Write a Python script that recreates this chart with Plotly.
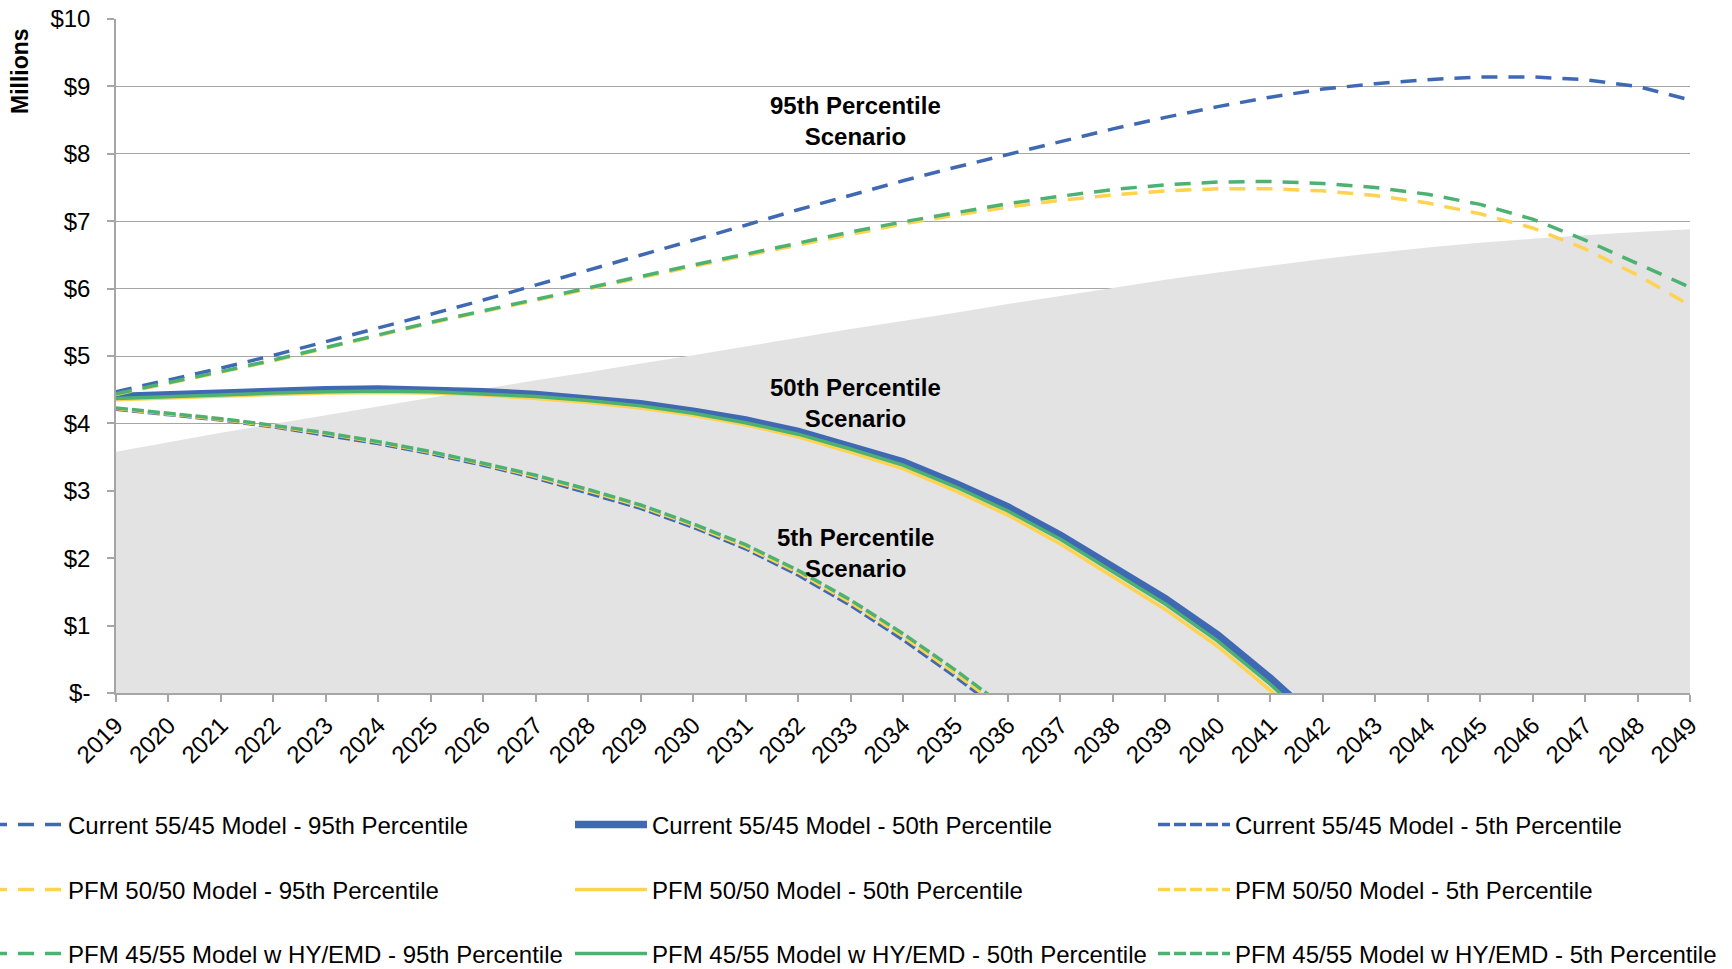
import plotly.graph_objects as go

# ---- data (millions of dollars) ----
years = list(range(2019, 2050))

shaded_area = [3.58, 3.72, 3.86, 3.99, 4.12, 4.25, 4.38, 4.51, 4.64, 4.76, 4.89,
               5.01, 5.14, 5.27, 5.40, 5.52, 5.64, 5.77, 5.89, 6.01, 6.13, 6.24,
               6.34, 6.44, 6.53, 6.61, 6.68, 6.74, 6.79, 6.84, 6.88]

cur_95 = [4.47, 4.64, 4.82, 5.01, 5.21, 5.41, 5.62, 5.83, 6.05, 6.27, 6.49,
          6.71, 6.94, 7.17, 7.39, 7.60, 7.80, 7.99, 8.18, 8.37, 8.54, 8.70,
          8.84, 8.96, 9.04, 9.10, 9.14, 9.14, 9.10, 9.00, 8.80]
cur_50 = [4.40, 4.43, 4.46, 4.48, 4.50, 4.51, 4.50, 4.47, 4.43, 4.37, 4.29,
          4.18, 4.05, 3.88, 3.66, 3.43, 3.11, 2.76, 2.34, 1.87, 1.40, 0.86,
          0.22, -0.48]
cur_5 = [4.21, 4.13, 4.05, 3.95, 3.83, 3.70, 3.55, 3.38, 3.19, 2.97, 2.74,
         2.46, 2.14, 1.75, 1.30, 0.79, 0.24, -0.34]

pfm50_95 = [4.43, 4.59, 4.76, 4.93, 5.12, 5.31, 5.49, 5.66, 5.83, 6.00, 6.17,
            6.33, 6.49, 6.65, 6.81, 6.96, 7.09, 7.21, 7.31, 7.39, 7.45, 7.48,
            7.48, 7.45, 7.38, 7.27, 7.11, 6.90, 6.59, 6.20, 5.75]
pfm50_50 = [4.35, 4.38, 4.41, 4.43, 4.45, 4.46, 4.45, 4.42, 4.37, 4.31, 4.23,
            4.12, 3.98, 3.80, 3.57, 3.33, 3.00, 2.64, 2.21, 1.73, 1.24, 0.69,
            0.04, -0.68]
pfm50_5 = [4.22, 4.14, 4.06, 3.96, 3.85, 3.72, 3.57, 3.40, 3.21, 3.00, 2.77,
           2.49, 2.17, 1.79, 1.34, 0.84, 0.29, -0.29]

pfm45_95 = [4.44, 4.60, 4.77, 4.94, 5.13, 5.32, 5.50, 5.67, 5.84, 6.02, 6.19,
            6.35, 6.51, 6.68, 6.84, 6.99, 7.13, 7.26, 7.37, 7.47, 7.54, 7.58,
            7.59, 7.56, 7.50, 7.40, 7.25, 7.03, 6.72, 6.37, 6.02]
pfm45_50 = [4.37, 4.40, 4.43, 4.45, 4.47, 4.48, 4.47, 4.44, 4.40, 4.34, 4.26,
            4.15, 4.01, 3.84, 3.62, 3.38, 3.06, 2.70, 2.28, 1.80, 1.32, 0.77,
            0.13, -0.58]
pfm45_5 = [4.23, 4.15, 4.07, 3.97, 3.86, 3.73, 3.58, 3.41, 3.23, 3.02, 2.79,
           2.51, 2.20, 1.82, 1.38, 0.88, 0.34, -0.24]

y_ticks = list(range(0, 11))
y_tick_text = ["$-"] + [f"${v}" for v in range(1, 11)]

# ---- styling ----
FONT = "Liberation Sans, Arial, sans-serif"
BLUE = "#3F69B3"
GOLD = "#FFD250"
GREEN = "#4CB271"
GRID = "#A6A6A6"
LONG_DASH = "16px,11px"
SHORT_DASH = "12px,4px"

series = [
    ("Current 55/45 Model - 95th Percentile", cur_95, BLUE, 3.5, LONG_DASH),
    ("Current 55/45 Model - 50th Percentile", cur_50, BLUE, 7.5, "solid"),
    ("Current 55/45 Model - 5th Percentile", cur_5, BLUE, 3.5, SHORT_DASH),
    ("PFM 50/50 Model - 95th Percentile", pfm50_95, GOLD, 3.5, LONG_DASH),
    ("PFM 50/50 Model - 50th Percentile", pfm50_50, GOLD, 3.5, "solid"),
    ("PFM 50/50 Model - 5th Percentile", pfm50_5, GOLD, 3.5, SHORT_DASH),
    ("PFM 45/55 Model w HY/EMD - 95th Percentile", pfm45_95, GREEN, 3.5, LONG_DASH),
    ("PFM 45/55 Model w HY/EMD - 50th Percentile", pfm45_50, GREEN, 3.5, "solid"),
    ("PFM 45/55 Model w HY/EMD - 5th Percentile", pfm45_5, GREEN, 3.5, SHORT_DASH),
]

fig = go.Figure()

fig.add_trace(go.Scatter(
    x=years, y=shaded_area, mode="none", fill="tozeroy",
    fillcolor="#E3E3E3", showlegend=False, hoverinfo="skip",
))

# one single-entry legend per series, laid out as a 3 x 3 grid
W, H = 1732, 969
ML, MR, MT, MB = 116, 42, 19, 276
PW, PH = W - ML - MR, H - MT - MB
col_px = [-14, 570, 1153]
row_px = [825, 890, 954]

legend_layouts = {}
for i, (name, vals, color, width, dash) in enumerate(series):
    key = "legend" if i == 0 else f"legend{i + 1}"
    fig.add_trace(go.Scatter(
        x=years[:len(vals)], y=vals, name=name, mode="lines",
        line=dict(color=color, width=width, dash=dash),
        legend=key,
    ))
    r, c = divmod(i, 3)
    legend_layouts[key] = dict(
        x=(col_px[c] - ML) / PW, y=(MT + PH - row_px[r]) / PH,
        xanchor="left", yanchor="middle",
        xref="paper", yref="paper",
        orientation="v", itemwidth=72,
        bgcolor="rgba(0,0,0,0)", borderwidth=0,
        font=dict(family=FONT, size=24, color="#000000"),
    )

fig.update_layout(**legend_layouts)

fig.update_layout(
    width=W, height=H,
    margin=dict(l=ML, r=MR, t=MT, b=MB, autoexpand=False),
    paper_bgcolor="white", plot_bgcolor="white",
    font=dict(family=FONT, size=24, color="#000000"),
    showlegend=True,
    xaxis=dict(
        range=[2019, 2049], tickmode="array", tickvals=years,
        ticktext=[str(y) for y in years], tickangle=-45,
        ticks="outside", ticklen=7, tickcolor=GRID, tickwidth=1.5,
        showline=True, linecolor=GRID, linewidth=1.5,
        showgrid=False, zeroline=False,
        tickfont=dict(family=FONT, size=24, color="#000000"),
    ),
    yaxis=dict(
        range=[0, 10], tickmode="array", tickvals=y_ticks, ticktext=y_tick_text,
        ticks="outside", ticklen=7, tickcolor=GRID, tickwidth=1.5,
        showline=True, linecolor=GRID, linewidth=1.5,
        showgrid=True, gridcolor=GRID, gridwidth=1.3,
        zeroline=False, ticklabelstandoff=12,
        tickfont=dict(family=FONT, size=24, color="#000000"),
    ),
)

label_font = dict(family=FONT, size=24, color="#000000")
annotations = [
    dict(text="<b>Millions</b>", textangle=-90, xref="paper", yref="paper",
         x=(20 - ML) / PW, y=(MT + PH - 71) / PH, xanchor="center", yanchor="middle",
         showarrow=False, font=dict(family=FONT, size=23, color="#000000")),
    dict(text="<b>95th Percentile<br>Scenario</b>", x=2033.1, y=8.48,
         xref="x", yref="y", showarrow=False, font=label_font),
    dict(text="<b>50th Percentile<br>Scenario</b>", x=2033.1, y=4.30,
         xref="x", yref="y", showarrow=False, font=label_font),
    dict(text="<b>5th Percentile<br>Scenario</b>", x=2033.1, y=2.08,
         xref="x", yref="y", showarrow=False, font=label_font),
]
fig.update_layout(annotations=annotations)

fig.write_html("out.html")
